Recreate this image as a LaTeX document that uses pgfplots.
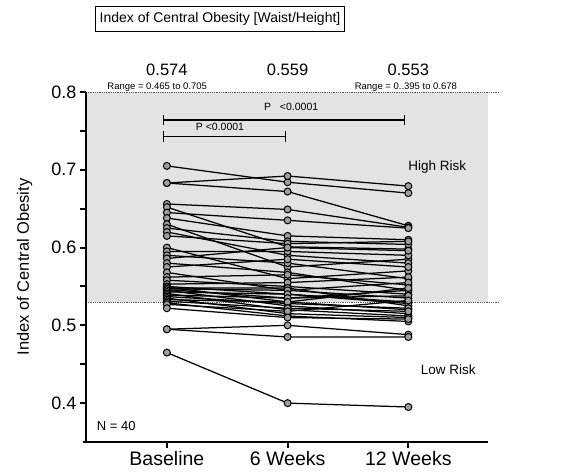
\documentclass[border=0pt]{standalone}
\usepackage{pgfplots}
\pgfplotsset{compat=1.18}
\usepackage{fontspec}
\setmainfont{Liberation Sans}
\pgfplotsset{subj/.style={black, solid, line width=1.25pt, mark=*, mark size=3.5pt,
     mark options={fill=gray!75, draw=black, line width=1pt, solid}}}
\begin{document}
\begin{tikzpicture}[x=1pt,y=1pt]
\useasboundingbox (-86,-30) rectangle (478,442);
\begin{axis}[
  at={(0,0)}, anchor=south west,
  scale only axis, width=402pt, height=350pt,
  xmin=-0.67, xmax=2.66, ymin=0.35, ymax=0.8,
  axis x line*=bottom, axis y line*=left,
  separate axis lines,
  every outer x axis line/.append style={line width=2pt, shorten <=-3pt},
  every outer y axis line/.append style={line width=2pt},
  axis on top,
  xtick={0,1,2}, xticklabels={Baseline,6 Weeks,12 Weeks},
  ytick={0.4,0.5,0.6,0.7,0.8},
  minor ytick={0.45,0.55,0.65,0.75},
  /pgf/number format/assume math mode=true,
  tick style={line width=2pt,black},
  major tick length=6pt, minor tick length=6pt,
  xtick align=outside, ytick align=outside,
  yticklabel style={font=\fontsize{18}{20}\selectfont, /pgf/number format/fixed, /pgf/number format/precision=1},
  xticklabel style={font=\fontsize{19.5}{21}\selectfont},
  ylabel={Index of Central Obesity},
  ylabel style={font=\fontsize{16.5}{19}\selectfont, at={(axis description cs:-0.125,0.5)}},
  clip=false,
]
\fill[gray!22] (axis cs:-0.67,0.53) rectangle (axis cs:2.66,0.8);
\draw[densely dotted, gray!70!black, line width=0.8pt] (axis cs:-0.67,0.53) -- (axis cs:2.75,0.53);
\draw[densely dotted, gray!70!black, line width=0.8pt] (axis cs:-0.67,0.8) -- (axis cs:2.75,0.8);
% subjects
\addplot[subj] coordinates {(0,0.705)(1,0.684)(2,0.670)};
\addplot[subj] coordinates {(0,0.683)(1,0.692)(2,0.679)};
\addplot[subj] coordinates {(0,0.683)(1,0.672)(2,0.628)};
\addplot[subj] coordinates {(0,0.656)(1,0.649)(2,0.626)};
\addplot[subj] coordinates {(0,0.652)(1,0.601)(2,0.598)};
\addplot[subj] coordinates {(0,0.645)(1,0.635)(2,0.625)};
\addplot[subj] coordinates {(0,0.638)(1,0.615)(2,0.610)};
\addplot[subj] coordinates {(0,0.630)(1,0.575)(2,0.585)};
\addplot[subj] coordinates {(0,0.625)(1,0.608)(2,0.604)};
\addplot[subj] coordinates {(0,0.620)(1,0.590)(2,0.580)};
\addplot[subj] coordinates {(0,0.615)(1,0.605)(2,0.608)};
\addplot[subj] coordinates {(0,0.600)(1,0.560)(2,0.570)};
\addplot[subj] coordinates {(0,0.595)(1,0.595)(2,0.590)};
\addplot[subj] coordinates {(0,0.590)(1,0.580)(2,0.560)};
\addplot[subj] coordinates {(0,0.586)(1,0.600)(2,0.596)};
\addplot[subj] coordinates {(0,0.580)(1,0.568)(2,0.545)};
\addplot[subj] coordinates {(0,0.575)(1,0.585)(2,0.575)};
\addplot[subj] coordinates {(0,0.568)(1,0.545)(2,0.535)};
\addplot[subj] coordinates {(0,0.562)(1,0.565)(2,0.552)};
\addplot[subj] coordinates {(0,0.558)(1,0.550)(2,0.540)};
\addplot[subj] coordinates {(0,0.553)(1,0.555)(2,0.562)};
\addplot[subj] coordinates {(0,0.550)(1,0.540)(2,0.530)};
\addplot[subj] coordinates {(0,0.548)(1,0.548)(2,0.525)};
\addplot[subj] coordinates {(0,0.546)(1,0.535)(2,0.545)};
\addplot[subj] coordinates {(0,0.549)(1,0.530)(2,0.520)};
\addplot[subj] coordinates {(0,0.547)(1,0.545)(2,0.555)};
\addplot[subj] coordinates {(0,0.545)(1,0.525)(2,0.515)};
\addplot[subj] coordinates {(0,0.543)(1,0.540)(2,0.528)};
\addplot[subj] coordinates {(0,0.541)(1,0.520)(2,0.512)};
\addplot[subj] coordinates {(0,0.539)(1,0.535)(2,0.538)};
\addplot[subj] coordinates {(0,0.537)(1,0.528)(2,0.522)};
\addplot[subj] coordinates {(0,0.535)(1,0.515)(2,0.510)};
\addplot[subj] coordinates {(0,0.533)(1,0.530)(2,0.548)};
\addplot[subj] coordinates {(0,0.531)(1,0.522)(2,0.518)};
\addplot[subj] coordinates {(0,0.529)(1,0.512)(2,0.505)};
\addplot[subj] coordinates {(0,0.527)(1,0.518)(2,0.532)};
\addplot[subj] coordinates {(0,0.522)(1,0.510)(2,0.508)};
\addplot[subj] coordinates {(0,0.495)(1,0.500)(2,0.488)};
\addplot[subj] coordinates {(0,0.495)(1,0.485)(2,0.485)};
\addplot[subj] coordinates {(0,0.465)(1,0.400)(2,0.395)};
% annotations
\node[font=\fontsize{16.5}{18}\selectfont] at (axis cs:0,0.829) {0.574};
\node[font=\fontsize{16.5}{18}\selectfont] at (axis cs:1,0.829) {0.559};
\node[font=\fontsize{16.5}{18}\selectfont] at (axis cs:2,0.829) {0.553};
\node[font=\fontsize{9.5}{10}\selectfont] at (axis cs:-0.08,0.806) {Range = 0.465 to 0.705};
\node[font=\fontsize{9.5}{10}\selectfont] at (axis cs:1.98,0.806) {Range = 0..395 to 0.678};
\draw[line width=1.1pt] (axis cs:-0.03,0.764) -- (axis cs:1.97,0.764);
\draw[line width=1.1pt] (axis cs:-0.03,0.757) -- (axis cs:-0.03,0.771);
\draw[line width=1.1pt] (axis cs:1.97,0.757) -- (axis cs:1.97,0.771);
\node[font=\fontsize{10.5}{12}\selectfont] at (axis cs:1.03,0.781) {P\ \ \ <0.0001};
\draw[line width=1.1pt] (axis cs:-0.03,0.743) -- (axis cs:0.98,0.743);
\draw[line width=1.1pt] (axis cs:-0.03,0.736) -- (axis cs:-0.03,0.750);
\draw[line width=1.1pt] (axis cs:0.98,0.736) -- (axis cs:0.98,0.750);
\node[font=\fontsize{10.5}{12}\selectfont] at (axis cs:0.44,0.755) {P <0.0001};
\node[font=\fontsize{13.5}{15}\selectfont] at (axis cs:2.24,0.703) {High Risk};
\node[font=\fontsize{13.5}{15}\selectfont] at (axis cs:2.33,0.443) {Low Risk};
\node[font=\fontsize{13}{14}\selectfont] at (axis cs:-0.42,0.370) {N = 40};
\end{axis}
\node[draw, line width=1pt, inner xsep=4pt, inner ysep=6pt, font=\fontsize{14}{16}\selectfont] at (134,423) {Index of Central Obesity [Waist/Height]};
\end{tikzpicture}
\end{document}
